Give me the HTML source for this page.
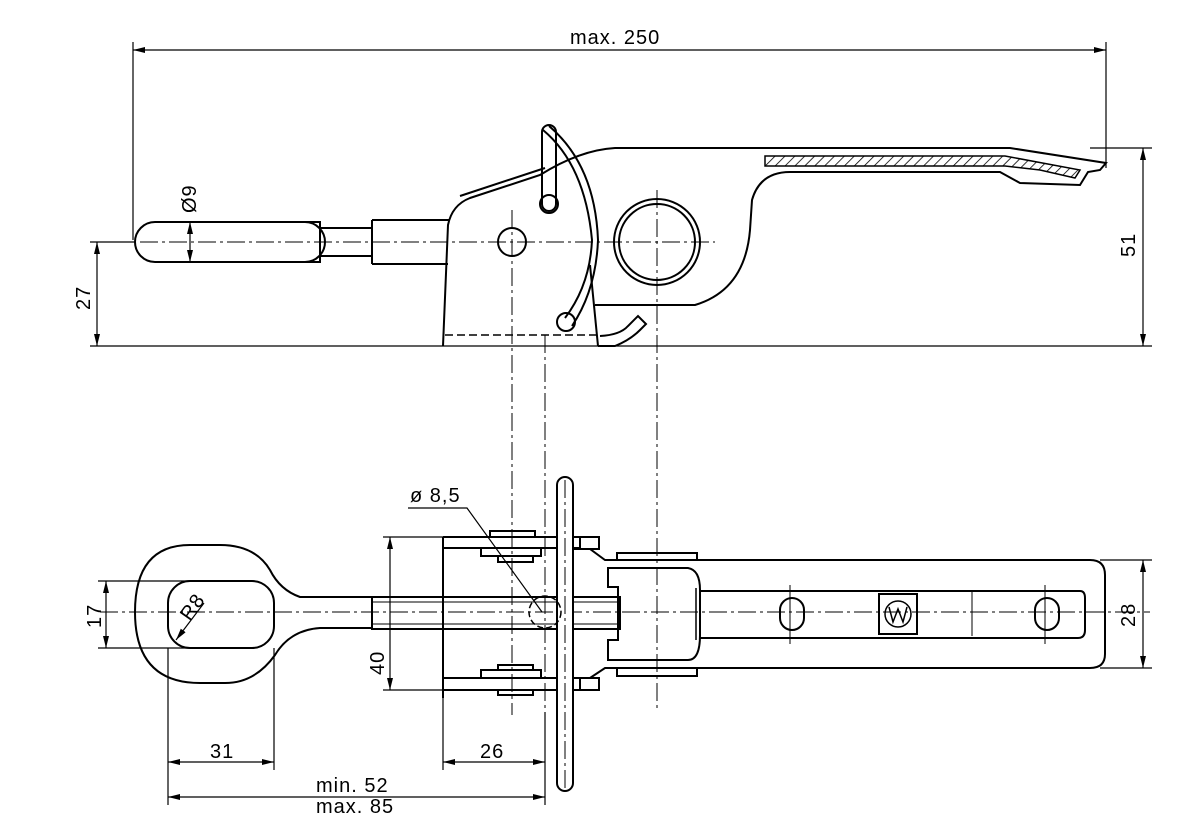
<!DOCTYPE html>
<html><head><meta charset="utf-8"><style>
html,body{margin:0;padding:0;background:#fff;}
svg{display:block;}
text{font-family:"Liberation Sans",sans-serif;font-size:20px;letter-spacing:1px;fill:#000;}
</style></head><body>
<svg width="1200" height="837" viewBox="0 0 1200 837" xmlns="http://www.w3.org/2000/svg">
<defs>
<marker id="a" viewBox="0 0 12 6" refX="12" refY="3" markerWidth="12" markerHeight="6" orient="auto-start-reverse" markerUnits="userSpaceOnUse"><path d="M0,0 L12,3 L0,6 z" fill="#000"/></marker>
<pattern id="h" width="7" height="7" patternUnits="userSpaceOnUse" patternTransform="rotate(45)"><line x1="0" y1="0" x2="0" y2="7" stroke="#000" stroke-width="1.6"/></pattern>
</defs>
<g fill="none" stroke="#000" stroke-width="1.2">
<line x1="133" y1="42" x2="133" y2="240"/>
<line x1="1106" y1="42" x2="1106" y2="168"/>
<line x1="133" y1="50" x2="1106" y2="50" marker-start="url(#a)" marker-end="url(#a)"/>
<line x1="1090" y1="148" x2="1152" y2="148"/>
<line x1="1143" y1="148" x2="1143" y2="346" marker-start="url(#a)" marker-end="url(#a)"/>
<line x1="90" y1="242" x2="135" y2="242"/>
<line x1="97" y1="242" x2="97" y2="346" marker-start="url(#a)" marker-end="url(#a)"/>
<line x1="90" y1="346" x2="1152" y2="346"/>
<line x1="190" y1="222" x2="190" y2="262" marker-start="url(#a)" marker-end="url(#a)"/>
</g>
<text x="570" y="44">max. 250</text>
<text transform="translate(1135,257) rotate(-90)">51</text>
<text transform="translate(90,310) rotate(-90)">27</text>
<text transform="translate(196,213) rotate(-90)">Ø9</text>

<g fill="none" stroke="#000" stroke-width="1" stroke-dasharray="18,4,3,4">
<line x1="140" y1="242" x2="715" y2="242"/>
<line x1="512" y1="210" x2="512" y2="715"/>
<line x1="545" y1="335" x2="545" y2="712"/>
<line x1="657" y1="190" x2="657" y2="712"/>
<line x1="100" y1="612" x2="1150" y2="612"/>
</g>

<g fill="none" stroke="#000" stroke-width="2">
<path d="M155,222 L320,222 L320,262 L155,262 A20,20 0 0 1 155,222 z"/>
<path d="M305,222 A20,20 0 0 1 305,262"/>
<path d="M320,228 L372,228 M320,256 L372,256"/>
<path d="M372,220 L450,220 M372,264 L448,264 M372,220 L372,264"/>
<path d="M443,346 L448,225 Q452,205 470,198 L540,175 Q580,150 615,148 L1010,148 L1106,163 L1100,170 L1088,172 L1080,185 L1020,183 L1000,172 L790,172 Q760,172 752,200 L750,230 Q745,290 695,305 L595,305"/>
<path d="M460,196 L545,168"/>
<path d="M590,265 L598,346"/>
<path d="M598,346 L615,346 Q630,340 640,330 L646,324 L638,316 L628,326 Q620,335 600,336"/>
<circle cx="512" cy="242" r="14"/>
<circle cx="657" cy="242" r="43"/>
<circle cx="657" cy="242" r="38"/>
<path d="M542,132 L542,204 A7,7 0 0 0 556,204 L556,132 A7,7 0 0 0 542,132"/>
<circle cx="549" cy="204" r="9"/>
<path d="M543,130 Q585,165 592,240 Q590,285 565,318"/>
<path d="M549,126 Q595,165 598,240 Q596,290 572,326"/>
<circle cx="566" cy="322" r="9"/>
</g>
<path d="M765,156 L1005,156 L1080,170 L1075,178 L1040,170 L1005,166 L765,166 z" fill="url(#h)" stroke="#000" stroke-width="1.5"/>
<line x1="445" y1="335" x2="598" y2="335" stroke="#000" stroke-width="1.5" stroke-dasharray="8,4"/>

<g fill="none" stroke="#000" stroke-width="2">
<path d="M345,597 L300,597 Q280,590 270,570 Q255,545 220,545 L190,545 Q135,545 135,612 Q135,683 200,683 L225,683 Q255,683 275,655 Q290,630 320,628 L372,628"/>
<path d="M345,597 L372,597"/>
<rect x="168" y="581" width="106" height="67" rx="22"/>
<rect x="372" y="597" width="248" height="32"/>
<line x1="372" y1="602" x2="620" y2="602" stroke-width="1"/>
<line x1="372" y1="624" x2="620" y2="624" stroke-width="1"/>
<path d="M443,537 L443,698"/>
<path d="M443,537 L580,537 L580,548 L443,548 M443,678 L580,678 L580,690 L443,690"/>
<rect x="490" y="531" width="45" height="6"/>
<rect x="481" y="548" width="60" height="8"/>
<rect x="498" y="556" width="35" height="6"/>
<rect x="481" y="670" width="60" height="8"/>
<rect x="498" y="665" width="35" height="5"/>
<rect x="498" y="690" width="35" height="5"/>
<rect x="573" y="537" width="26" height="12"/>
<rect x="573" y="678" width="26" height="12"/>
<path d="M573,549 L590,549 L605,560 L700,560 M573,678 L590,678 L605,668 L700,668"/>
<path d="M608,568 L688,568 Q700,570 700,590 L700,635 Q700,660 688,660 L608,660 L608,640 L618,640 L618,587 L608,587 z"/>
<line x1="696" y1="588" x2="696" y2="640" stroke-width="1.5"/>
<rect x="617" y="553" width="80" height="7"/>
<rect x="617" y="668" width="80" height="8"/>
<path d="M700,560 L1090,560 Q1105,560 1105,575 L1105,654 Q1105,668 1090,668 L700,668"/>
<path d="M700,591 L1080,591 Q1085,591 1085,598 L1085,630 Q1085,638 1078,638 L700,638"/>
<rect x="780" y="598" width="24" height="32" rx="12"/>
<rect x="1035" y="598" width="24" height="32" rx="12"/>
<rect x="879" y="594" width="38" height="40"/>
<circle cx="898" cy="614" r="13" stroke-width="1.5"/>
<path d="M889,607 L893,622 L898,609 L903,622 L907,607" stroke-width="1.5"/>
<path d="M557,485 A8,8 0 0 1 573,485 L573,783 A8,8 0 0 1 557,783 z" fill="#fff"/>
<line x1="565" y1="480" x2="565" y2="790" stroke-width="1" stroke-dasharray="18,4,3,4"/>
<circle cx="545" cy="612" r="16" stroke-width="1.5" stroke-dasharray="6,3"/>
</g>
<g fill="none" stroke="#000" stroke-width="1">
<line x1="790" y1="585" x2="790" y2="644"/>
<line x1="1045" y1="585" x2="1045" y2="644"/>
<line x1="972" y1="592" x2="972" y2="636"/>
</g>

<g fill="none" stroke="#000" stroke-width="1.2">
<line x1="98" y1="581" x2="200" y2="581"/>
<line x1="98" y1="648" x2="200" y2="648"/>
<line x1="106" y1="581" x2="106" y2="648" marker-start="url(#a)" marker-end="url(#a)"/>
<line x1="383" y1="537" x2="443" y2="537"/>
<line x1="383" y1="690" x2="443" y2="690"/>
<line x1="390" y1="537" x2="390" y2="690" marker-start="url(#a)" marker-end="url(#a)"/>
<line x1="1100" y1="560" x2="1152" y2="560"/>
<line x1="1100" y1="668" x2="1152" y2="668"/>
<line x1="1143" y1="560" x2="1143" y2="668" marker-start="url(#a)" marker-end="url(#a)"/>
<line x1="168" y1="648" x2="168" y2="805"/>
<line x1="274" y1="648" x2="274" y2="770"/>
<line x1="443" y1="698" x2="443" y2="770"/>
<line x1="545" y1="712" x2="545" y2="805"/>
<line x1="168" y1="762" x2="274" y2="762" marker-start="url(#a)" marker-end="url(#a)"/>
<line x1="443" y1="762" x2="545" y2="762" marker-start="url(#a)" marker-end="url(#a)"/>
<line x1="168" y1="797" x2="545" y2="797" marker-start="url(#a)" marker-end="url(#a)"/>
<path d="M408,508 L467,508 L542,612"/>
<line x1="204" y1="603" x2="176" y2="640" marker-end="url(#a)"/>
</g>
<text transform="translate(101,628) rotate(-90)">17</text>
<text transform="translate(384,675) rotate(-90)">40</text>
<text transform="translate(1135,627) rotate(-90)">28</text>
<text transform="translate(190,622) rotate(-55)">R8</text>
<text x="410" y="502">ø  8,5</text>
<text x="210" y="758">31</text>
<text x="480" y="758">26</text>
<text x="316" y="792">min. 52</text>
<text x="316" y="813">max. 85</text>
</svg>
</body></html>
